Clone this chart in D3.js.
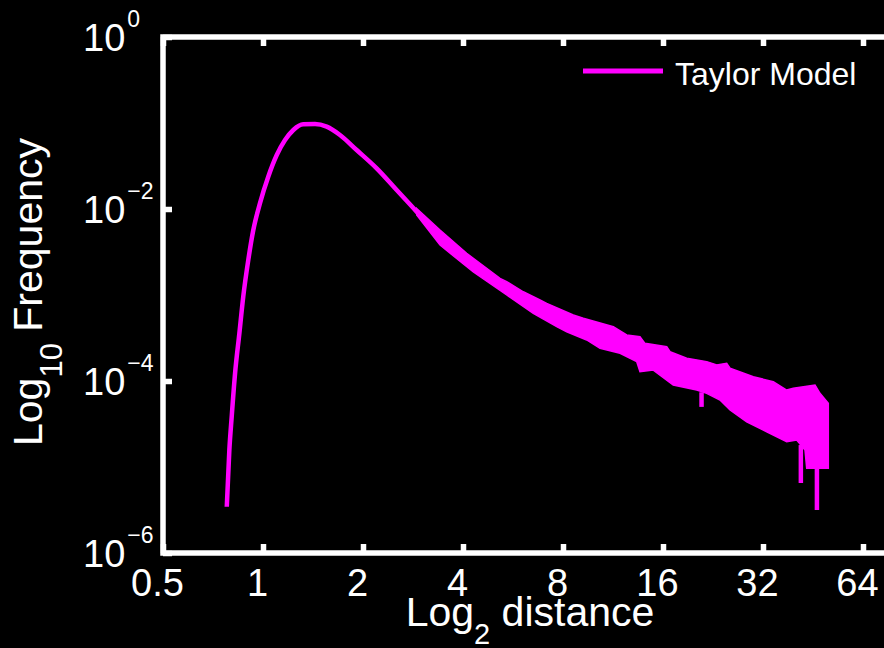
<!DOCTYPE html>
<html>
<head>
<meta charset="utf-8">
<script src="https://cdn.jsdelivr.net/npm/d3@7"></script>
<style>
  body { margin: 0; background: #000; }
  svg { display: block; font-family: "Liberation Sans", Arial, sans-serif; }
  .axis text { fill: #fff; font-size: 38px; }
  .axis line { stroke: #fff; stroke-width: 5.5; }
  .axis path { display: none; }
</style>
</head>
<body>
<svg id="chart"></svg>
<script>
let w = 884;
let h = 648;

// smooth part of the Taylor Model curve (distance, frequency)
let curveDist = [0.778, 0.792, 0.805, 0.824, 0.849, 0.872, 0.903, 0.935, 0.979, 1.037,
  1.100, 1.165, 1.234, 1.322, 1.434, 1.555, 1.705, 1.914, 2.199, 2.526,
  2.901, 3.333];
let curveFreq = [3.45e-6, 1.58e-5, 3.85e-5, 1.23e-4, 3.59e-4, 9.55e-4, 2.55e-3, 5.70e-3, 0.01164, 0.02376,
  0.04246, 0.0634, 0.0829, 0.0966, 0.0973, 0.0906, 0.0725, 0.0485, 0.0297, 0.01663,
  0.00931, 0.0050];

// noisy tail: upper edge of the line
let upperDist = [2.902, 3.411, 4.103, 4.500, 5.170, 5.415, 6.075, 6.821, 7.145, 8.592,
  9.209, 11.34, 12.44, 13.64, 14.12, 16.42, 16.80, 18.86, 21.66, 23.22,
  24.88, 25.46, 29.92, 34.37, 37.71, 39.48, 45.89, 47.50, 50.32];
let upperFreq = [0.01014, 0.00570, 0.00305, 0.00234, 0.00156, 0.00143, 0.00109, 8.75e-4, 8.00e-4, 5.85e-4,
  5.36e-4, 4.28e-4, 3.43e-4, 3.27e-4, 2.74e-4, 2.51e-4, 2.19e-4, 1.84e-4, 1.68e-4, 1.54e-4,
  1.61e-4, 1.41e-4, 1.12e-4, 9.82e-5, 7.85e-5, 8.22e-5, 8.98e-5, 7.19e-5, 5.51e-5];

// noisy tail: lower edge of the line
let lowerDist = [2.902, 3.411, 4.297, 5.415, 6.511, 7.658, 8.208, 9.428, 10.34, 11.88,
  13.33, 13.64, 14.96, 17.18, 20.21, 21.66, 23.75, 25.46, 28.58, 32.83,
  37.71, 40.42, 42.81, 43.32, 50.32];
let lowerFreq = [0.00851, 0.00381, 0.00185, 0.00100, 6.12e-4, 4.28e-4, 3.74e-4, 3.00e-4, 2.40e-4, 2.10e-4,
  1.68e-4, 1.28e-4, 1.34e-4, 8.98e-5, 7.85e-5, 7.19e-5, 6.01e-5, 4.60e-5, 3.36e-5, 2.57e-5,
  1.97e-5, 2.06e-5, 1.58e-5, 9.66e-6, 9.66e-6];

// single low bins dropping out of the tail
let spikeDist = [20.9, 41.6, 46.5];
let spikeTop = [7.4e-5, 1.8e-5, 9.66e-6];
let spikeFreq = [5.0e-5, 6.52e-6, 3.16e-6];

let xTicks = [0.5, 1, 2, 4, 8, 16, 32, 64];
let yTicks = [1e-6, 1e-4, 1e-2, 1];
let yExp = ["\u22126", "\u22124", "\u22122", "0"];

let magenta = "#ff00ff";

let svg = d3.select("#chart").attr("width", w).attr("height", h);

let mLeft = 163, mTop = 37, mBottom = 553;
let xMax = 78;

let xScale = d3.scaleLog().base(2)
  .domain([0.5, xMax])
  .range([mLeft, mLeft + 100 * Math.log2(xMax / 0.5)]);

let yScale = d3.scaleLog()
  .domain([1e-6, 1])
  .range([mBottom, mTop]);

// data
let curve = curveDist.map((d, i) => ({ x: d, y: curveFreq[i] }));
let upper = upperDist.map((d, i) => ({ x: d, y: upperFreq[i] }));
let lower = lowerDist.map((d, i) => ({ x: d, y: lowerFreq[i] }));
let band = upper.concat(lower.slice().reverse());
let spikes = spikeDist.map((d, i) => ({ x: d, top: spikeTop[i], y: spikeFreq[i] }));

let line = d3.line()
  .x((d) => xScale(d.x))
  .y((d) => yScale(d.y));

let plot = svg.append("g");

plot.append("path")
  .datum(band)
  .attr("fill", magenta)
  .attr("stroke", magenta)
  .attr("stroke-width", 1.5)
  .attr("stroke-linejoin", "miter")
  .attr("d", line.curve(d3.curveLinearClosed));

plot.append("path")
  .datum(curve)
  .attr("fill", "none")
  .attr("stroke", magenta)
  .attr("stroke-width", 4.5)
  .attr("d", d3.line()
    .x((d) => xScale(d.x))
    .y((d) => yScale(d.y))
    .curve(d3.curveMonotoneX));

plot.selectAll(".spike")
  .data(spikes)
  .enter()
  .append("line")
  .attr("class", "spike")
  .attr("x1", (d) => xScale(d.x))
  .attr("x2", (d) => xScale(d.x))
  .attr("y1", (d) => yScale(d.top))
  .attr("y2", (d) => yScale(d.y))
  .attr("stroke", magenta)
  .attr("stroke-width", 4.5);

// AXES
let xAxis = d3.axisBottom(xScale)
  .tickValues(xTicks)
  .tickSize(-9)
  .tickFormat((d) => String(d));

let xAxisGroup = svg.append("g")
  .attr("class", "axis")
  .attr("transform", `translate(0, ${mBottom})`)
  .call(xAxis);
xAxisGroup.selectAll("text").attr("dx", -6).attr("dy", 0).attr("y", 43);

let xTopGroup = svg.append("g")
  .attr("class", "axis")
  .attr("transform", `translate(0, ${mTop})`)
  .call(d3.axisTop(xScale).tickValues(xTicks).tickSize(-9).tickFormat(""));

let yAxis = d3.axisLeft(yScale)
  .tickValues(yTicks)
  .tickSize(-9)
  .tickFormat("");

let yAxisGroup = svg.append("g")
  .attr("class", "axis")
  .attr("transform", `translate(${mLeft}, 0)`)
  .call(yAxis);

let yLabels = svg.append("g").attr("class", "axis");
yTicks.forEach((t, i) => {
  let txt = yLabels.append("text")
    .attr("x", 83)
    .attr("y", yScale(t) + 14)
    .attr("text-anchor", "start");
  txt.append("tspan").text("10");
  txt.append("tspan")
    .attr("dx", 2)
    .attr("dy", -24)
    .style("font-size", "23px")
    .text(yExp[i]);
});

// box
svg.append("rect")
  .attr("x", mLeft)
  .attr("y", mTop)
  .attr("width", xScale.range()[1] - mLeft)
  .attr("height", mBottom - mTop)
  .attr("fill", "none")
  .attr("stroke", "#fff")
  .attr("stroke-width", 5.5);

// axis titles
let xTitle = svg.append("text")
  .attr("x", 530)
  .attr("y", 626)
  .attr("text-anchor", "middle")
  .attr("fill", "#fff")
  .style("font-size", "41px");
xTitle.append("tspan").text("Log");
xTitle.append("tspan").attr("dy", 18).style("font-size", "29px").text("2");
xTitle.append("tspan").attr("dy", -18).text(" distance");

let yTitle = svg.append("text")
  .attr("transform", "translate(42, 292) rotate(-90)")
  .attr("text-anchor", "middle")
  .attr("fill", "#fff")
  .style("font-size", "41px");
yTitle.append("tspan").text("Log");
yTitle.append("tspan").attr("dy", 20).style("font-size", "31px").text("10");
yTitle.append("tspan").attr("dy", -20).text(" Frequency");

// legend
svg.append("line")
  .attr("x1", 583).attr("x2", 663)
  .attr("y1", 71).attr("y2", 71)
  .attr("stroke", magenta)
  .attr("stroke-width", 5);

svg.append("text")
  .attr("x", 675)
  .attr("y", 85)
  .attr("fill", "#fff")
  .style("font-size", "32px")
  .text("Taylor Model");
</script>
</body>
</html>
